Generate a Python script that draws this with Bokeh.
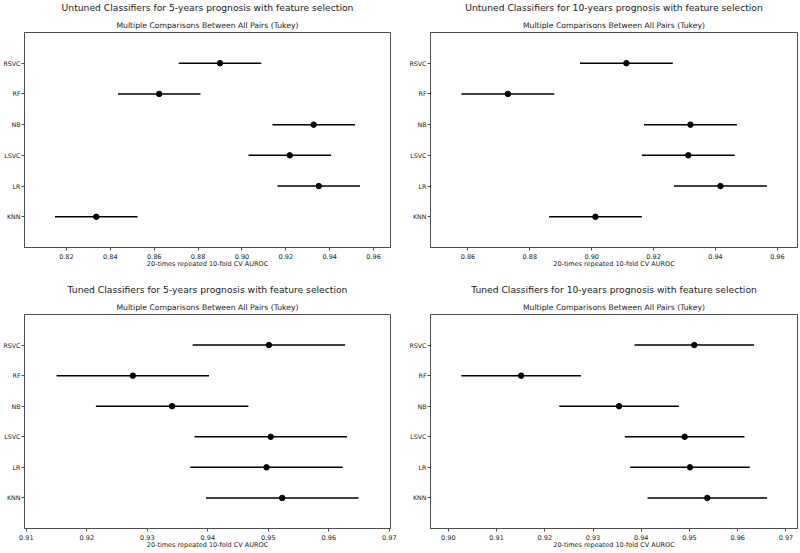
from bokeh.plotting import figure
from bokeh.layouts import gridplot
from bokeh.models import Range1d, FixedTicker, SingleIntervalTicker, NumeralTickFormatter, Title, ColumnDataSource
from bokeh.embed import file_html
from bokeh.resources import INLINE

# ---- data ----
classifiers = ["KNN", "LR", "LSVC", "NB", "RF", "RSVC"]

untuned_5y_mean = [0.8336, 0.9350, 0.9218, 0.9327, 0.8623, 0.8900]
untuned_5y_halfwidth = 0.0188
untuned_10y_mean = [0.9012, 0.9416, 0.9312, 0.9319, 0.8729, 0.9112]
untuned_10y_halfwidth = 0.0150
tuned_5y_mean = [0.9523, 0.9497, 0.9504, 0.9341, 0.9276, 0.9501]
tuned_5y_halfwidth = 0.0126
tuned_10y_mean = [0.9537, 0.9501, 0.9490, 0.9354, 0.9151, 0.9510]
tuned_10y_halfwidth = 0.0124

suptitles = [
    "Untuned Classifiers for 5-years prognosis with feature selection",
    "Untuned Classifiers for 10-years prognosis with feature selection",
    "Tuned Classifiers for 5-years prognosis with feature selection",
    "Tuned Classifiers for 10-years prognosis with feature selection",
]
subtitle = "Multiple Comparisons Between All Pairs (Tukey)"
xlabel = "20-times repeated 10-fold CV AUROC"

FONT = "DejaVu Sans"
TXT = "#1a1a1a"
SPINE = "#4d4d4d"


def make_panel(sup, means, hw, xlim, interval, width, height,
               mleft, mright, mtop, mbottom):
    ys = list(range(len(classifiers)))
    src = ColumnDataSource(dict(
        y=ys, m=means,
        lo=[v - hw for v in means], hi=[v + hw for v in means],
    ))
    p = figure(width=width, height=height, output_backend="svg", toolbar_location=None,
               tools="", title=None,
               x_range=Range1d(*xlim), y_range=Range1d(-1, len(classifiers)),
               min_border_left=mleft, min_border_right=mright,
               min_border_top=mtop, min_border_bottom=mbottom)
    p.segment(x0="lo", x1="hi", y0="y", y1="y", source=src, line_color="black", line_width=1.5)
    p.scatter(x="m", y="y", source=src, size=5.5, marker="circle",
              fill_color="black", line_color="black")

    p.add_layout(Title(text=subtitle, align="center", text_font=FONT, text_font_size="7.7px",
                       text_font_style="normal", text_color=TXT, standoff=6), "above")
    p.add_layout(Title(text=sup, align="center", vertical_align="top", text_font=FONT,
                       text_font_size="9.2px", text_font_style="normal", text_color=TXT,
                       standoff=2), "above")

    p.xgrid.visible = False
    p.ygrid.visible = False
    p.outline_line_color = SPINE
    p.outline_line_width = 1
    p.outline_line_alpha = 1

    xa = p.xaxis[0]
    xa.ticker = SingleIntervalTicker(interval=interval, num_minor_ticks=0)
    xa.formatter = NumeralTickFormatter(format="0.00")
    xa.axis_label = xlabel
    ya = p.yaxis[0]
    ya.ticker = FixedTicker(ticks=ys)
    ya.major_label_overrides = {i: c for i, c in zip(ys, classifiers)}
    for ax in (xa, ya):
        ax.axis_line_color = SPINE
        ax.major_tick_line_color = SPINE
        ax.minor_tick_line_color = None
        ax.major_tick_out = 3
        ax.major_tick_in = 0
        ax.major_label_text_font = FONT
        ax.major_label_text_font_size = "6.5px"
        ax.major_label_text_color = TXT
        ax.axis_label_text_font = FONT
        ax.axis_label_text_font_size = "6.5px"
        ax.axis_label_text_font_style = "normal"
        ax.axis_label_text_color = TXT
    xa.major_label_standoff = 3
    xa.axis_label_standoff = -2
    ya.major_label_text_font_size = "6.3px"
    ya.major_label_standoff = 1
    return p


p1 = make_panel(suptitles[0], untuned_5y_mean, untuned_5y_halfwidth, (0.8009, 0.9677), 0.02,
                405, 276, 23, 15, 0, 29)
p2 = make_panel(suptitles[1], untuned_10y_mean, untuned_10y_halfwidth, (0.8479, 0.9665), 0.02,
                395, 276, 25, 3, 0, 29)
p3 = make_panel(suptitles[2], tuned_5y_mean, tuned_5y_halfwidth, (0.9097, 0.9702), 0.01,
                405, 277, 23, 15, 38, 25)
p4 = make_panel(suptitles[3], tuned_10y_mean, tuned_10y_halfwidth, (0.8963, 0.9724), 0.01,
                395, 277, 25, 3, 38, 25)

grid = gridplot([[p1, p2], [p3, p4]], toolbar_location=None)

open("out.html", "w").write(file_html(grid, INLINE))
